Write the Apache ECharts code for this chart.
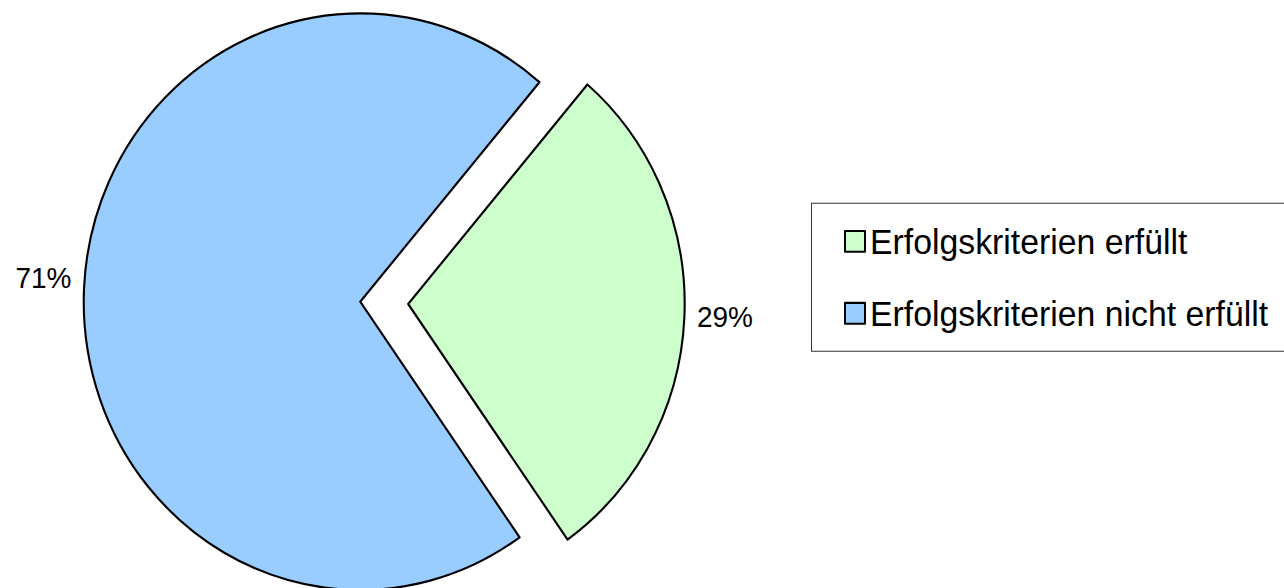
<!DOCTYPE html>
<html>
<head>
<meta charset="utf-8">
<script src="https://cdn.jsdelivr.net/npm/echarts@6/dist/echarts.min.js"></script>
<style>
  html, body { margin: 0; padding: 0; width: 1284px; height: 588px; background: #fff; overflow: hidden; }
  #frame { position: relative; width: 1284px; height: 588px; overflow: hidden; }
  /* the pie is drawn as a slightly tall ellipse: render at reduced height and stretch vertically */
  #chart { position: absolute; left: 0; top: 0; width: 1284px; height: 564px; transform: scaleY(1.04255); transform-origin: 0 0; }
</style>
</head>
<body>
<div id="frame"><div id="chart"></div></div>
<script>
const categories = ['Erfolgskriterien erfüllt', 'Erfolgskriterien nicht erfüllt'];
const shares = [29, 71];
const sliceColors = ['#ccffcc', '#99ccff'];
// vertical nudge of each percentage label (the larger slice's label sits higher)
const labelNudge = [0, -10.5];

const chart = echarts.init(document.getElementById('chart'), null, { renderer: 'svg' });

chart.setOption({
  animation: false,
  legend: {
    orient: 'vertical',
    left: 811.5,
    top: 195,
    padding: [19.5, 40, 19.5, 32.5],
    itemGap: 35,
    itemWidth: 20,
    itemHeight: 20,
    itemTextGap: 7,
    icon: 'rect',
    borderColor: '#333',
    borderWidth: 1,
    backgroundColor: '#fff',
    selectedMode: false,
    textStyle: { fontFamily: 'Liberation Sans', fontSize: 33.8, color: '#000', lineHeight: 34 },
    data: categories
  },
  series: [{
    type: 'pie',
    center: [384.2, 290.5],
    radius: 276.5,
    startAngle: 49.6,
    clockwise: true,
    selectedMode: 'multiple',
    selectedOffset: 24,
    avoidLabelOverlap: false,
    silent: true,
    itemStyle: { borderColor: '#000', borderWidth: 2.1 },
    label: {
      show: true,
      position: 'outside',
      formatter: p => p.value + '%',
      fontFamily: 'Liberation Sans',
      fontSize: 28,
      color: '#000',
      distanceToLabelLine: 5
    },
    labelLine: { show: false, length: 4, length2: 3.5 },
    labelLayout: p => ({ dy: labelNudge[p.dataIndex] }),
    emphasis: { disabled: true },
    data: categories.map((name, i) => ({
      name,
      value: shares[i],
      selected: true,
      itemStyle: { color: sliceColors[i] }
    }))
  }]
});
</script>
</body>
</html>
